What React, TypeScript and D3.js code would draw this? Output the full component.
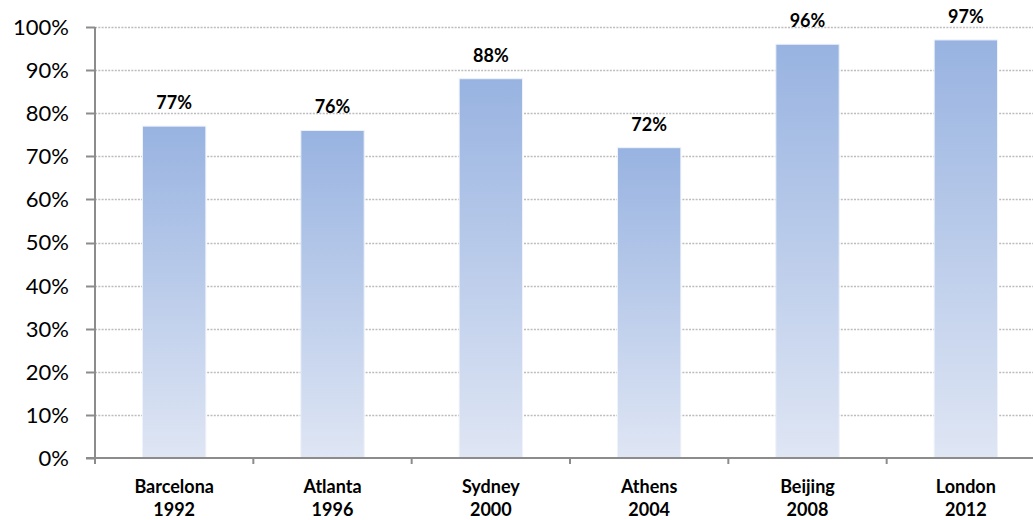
import React from "react";
import * as d3 from "d3";

const cities = ["Barcelona", "Atlanta", "Sydney", "Athens", "Beijing", "London"];
const years = ["1992", "1996", "2000", "2004", "2008", "2012"];
const shares = [0.77, 0.76, 0.88, 0.72, 0.96, 0.97];
const yTicks = [0, 0.1, 0.2, 0.3, 0.4, 0.5, 0.6, 0.7, 0.8, 0.9, 1.0];

const W = 1033;
const H = 520;
const left = 95;
const right = 1045;
const top = 27;
const bottom = 458;

export default function App() {
  const x = d3
    .scaleBand<string>()
    .domain(cities)
    .range([left, right])
    .paddingInner(0.6)
    .paddingOuter(0.3);
  const y = d3.scaleLinear().domain([0, 1]).range([bottom, top]);
  const step = x.step();
  const fmt = d3.format(".0%");
  const font = "Lato, 'Open Sans', sans-serif";

  return (
    <svg
      width={W}
      height={H}
      style={{ position: "fixed", left: 0, top: 0, background: "#fff" }}
    >
      <defs>
        <linearGradient id="barFill" x1="0" y1="0" x2="0" y2="1">
          <stop offset="0%" stopColor="#98b3e1" />
          <stop offset="100%" stopColor="#dfe6f4" />
        </linearGradient>
      </defs>

      {/* horizontal dotted gridlines */}
      {yTicks.slice(1).map((t) => (
        <line
          key={"g" + t}
          x1={left}
          x2={right}
          y1={Math.round(y(t)) + 0.5}
          y2={Math.round(y(t)) + 0.5}
          stroke="#bdbdbd"
          strokeWidth={1.5}
          strokeDasharray="2,1.3"
        />
      ))}

      {/* bars */}
      {cities.map((c, i) => (
        <rect
          key={c}
          x={x(c)}
          y={y(shares[i])}
          width={x.bandwidth()}
          height={bottom - y(shares[i])}
          fill="url(#barFill)"
          stroke="#eef2fa"
          strokeWidth={1}
        />
      ))}

      {/* value labels */}
      {cities.map((c, i) => (
        <text
          key={"v" + c}
          x={(x(c) as number) + x.bandwidth() / 2}
          y={y(shares[i]) - 17}
          textAnchor="middle"
          fontFamily={font}
          fontWeight="bold"
          fontSize={18}
          fill="#000"
        >
          {fmt(shares[i])}
        </text>
      ))}

      {/* y axis */}
      <line x1={left} x2={left} y1={top} y2={bottom} stroke="#8c8c8c" strokeWidth={2} />
      {yTicks.map((t) => (
        <g key={"y" + t}>
          <line
            x1={left - 9}
            x2={left}
            y1={Math.round(y(t)) + 0.5}
            y2={Math.round(y(t)) + 0.5}
            stroke="#8c8c8c"
            strokeWidth={2}
          />
          <text
            x={69}
            y={y(t)}
            dy="0.36em"
            textAnchor="end"
            fontFamily={font}
            fontSize={22}
            fill="#000"
          >
            {fmt(t)}
          </text>
        </g>
      ))}

      {/* x axis */}
      <line x1={left - 9} x2={right} y1={bottom} y2={bottom} stroke="#8c8c8c" strokeWidth={2} />
      {d3.range(cities.length + 1).map((k) => (
        <line
          key={"xt" + k}
          x1={left + k * step}
          x2={left + k * step}
          y1={bottom}
          y2={bottom + 6}
          stroke="#8c8c8c"
          strokeWidth={2}
        />
      ))}
      {cities.map((c, i) => (
        <text
          key={"c" + c}
          x={(x(c) as number) + x.bandwidth() / 2}
          textAnchor="middle"
          fontFamily={font}
          fontWeight="bold"
          fontSize={18}
          fill="#000"
        >
          <tspan x={(x(c) as number) + x.bandwidth() / 2} y={493}>
            {c}
          </tspan>
          <tspan x={(x(c) as number) + x.bandwidth() / 2} y={516}>
            {years[i]}
          </tspan>
        </text>
      ))}
    </svg>
  );
}
